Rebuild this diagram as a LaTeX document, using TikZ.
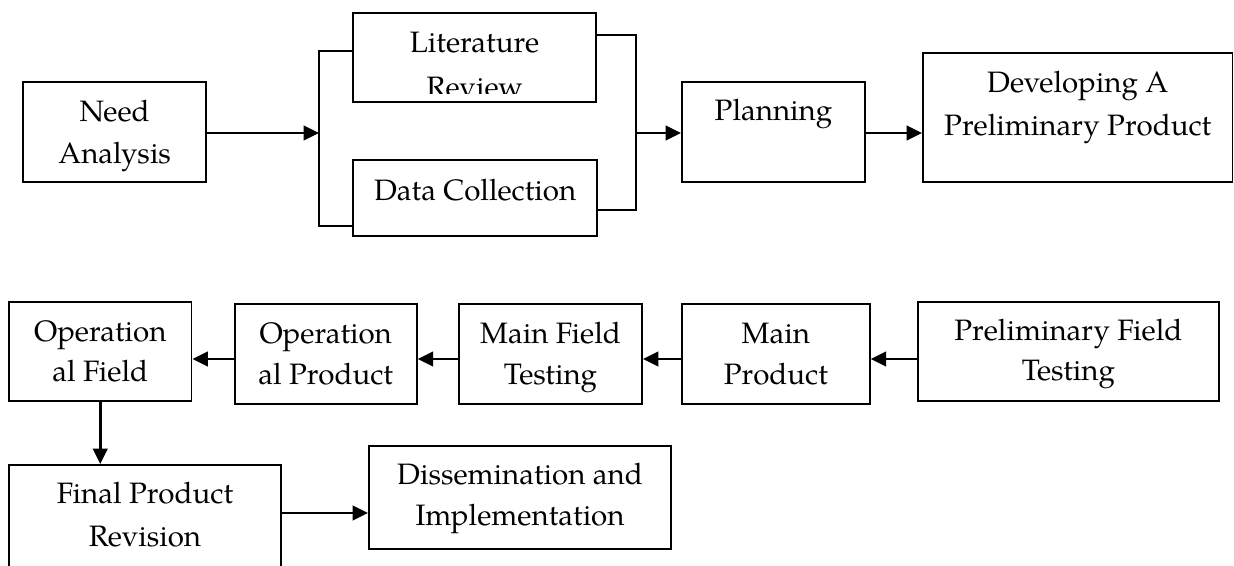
\documentclass[tikz,border=0pt]{standalone}
\usepackage{fontspec}
\setmainfont{TeX Gyre Pagella}
\usetikzlibrary{arrows.meta}
\newcommand\twoln[3]{\vtop{\baselineskip=#1pt\lineskiplimit=-100pt\halign{\hfil##\hfil\cr#2\cr#3\cr}}}
\begin{document}
\begin{tikzpicture}[x=1pt,y=-1pt,
  box/.style={draw, line width=1.9pt, inner sep=0pt, rectangle},
  txt/.style={inner sep=0pt, anchor=base, font=\fontsize{29.5}{41}\selectfont},
  arr/.style={line width=2.7pt, -{Triangle[length=15.5pt,width=14.5pt]}},
  conn/.style={line width=1.9pt}]
\useasboundingbox (0,0) rectangle (1234,565);
\clip (0,0) rectangle (1234,565);
% boxes
\node[box, minimum width=182.7pt, minimum height=100pt] (need) at (114.65,132) {};
\node[box, minimum width=242.7pt, minimum height=88.4pt] (lit) at (474.65,57.5) {};
\node[box, minimum width=243.7pt, minimum height=75.7pt] (data) at (475.15,197.85) {};
\node[box, minimum width=183pt, minimum height=100pt] (plan) at (773.5,132) {};
\node[box, minimum width=309.5pt, minimum height=129pt] (dev) at (1077.75,117.5) {};
\node[box, minimum width=182.5pt, minimum height=99.3pt] (opf) at (100.25,351.35) {};
\node[box, minimum width=182pt, minimum height=100pt] (opp) at (325.7,354) {};
\node[box, minimum width=183pt, minimum height=100pt] (mft) at (550.5,354) {};
\node[box, minimum width=187.7pt, minimum height=100pt] (mp) at (775.85,354) {};
\node[box, minimum width=300.7pt, minimum height=99.3pt] (pft) at (1068.35,351.35) {};
\node[box, minimum width=272pt, minimum height=135pt] (fpr) at (145,532.5) {};
\node[box, minimum width=302pt, minimum height=103.3pt] (dis) at (520,497.35) {};
% texts
\node[txt] (needt) at (114.65,121.7) {\twoln{41.6}{Need}{Analysis}};
\begin{scope}
\clip (353.3,13.3) rectangle (596,93);
\node[txt] (litt) at (474.65,52.7) {\twoln{44.9}{Literature}{Review}};
\end{scope}
\node[txt] (datat) at (475.15,200) {Data Collection};
\node[txt] (plant) at (773.5,120.7) {Planning};
\node[txt] (devt) at (1077.75,92) {\twoln{43.3}{Developing A}{Preliminary Product}};
\node[txt] (opft) at (100.25,341) {\twoln{40.7}{Operation}{al Field}};
\node[txt] (oppt) at (325.7,343.3) {\twoln{40.7}{Operation}{al Product}};
\node[txt] (mftt) at (550.5,343) {\twoln{41}{Main Field}{Testing}};
\node[txt] (mpt) at (775.85,343) {\twoln{41}{Main}{Product}};
\node[txt] (pftt) at (1068.35,340) {\twoln{40.5}{Preliminary Field}{Testing}};
\node[txt] (fprt) at (145,503) {\twoln{43.7}{Final Product}{Revision}};
\node[txt] (dist) at (520,484) {\twoln{41}{Dissemination and}{Implementation}};
% connector coordinates
\coordinate (bl) at (319,133);
\coordinate (br) at (636,133);
\coordinate (blt) at (319,50.7);
\coordinate (blb) at (319,226);
\coordinate (brt) at (636,35);
\coordinate (brb) at (636,210);
\coordinate (row1) at (0,133);
\coordinate (row2) at (0,359);
\coordinate (row3) at (0,513);
% brackets
\draw[conn] (lit.west |- blt) -- (blt) -- (blb) -- (data.west |- blb);
\draw[conn] (lit.east |- brt) -- (brt) -- (brb) -- (data.east |- brb);
% arrows top row
\draw[arr] (need.east |- row1) -- (bl);
\draw[arr] (br) -- (plan.west |- row1);
\draw[arr] (plan.east |- row1) -- (dev.west |- row1);
% arrows bottom row
\draw[arr] (pft.west |- row2) -- (mp.east |- row2);
\draw[arr] (mp.west |- row2) -- (mft.east |- row2);
\draw[arr] (mft.west |- row2) -- (opp.east |- row2);
\draw[arr] (opp.west |- row2) -- (opf.east |- row2);
\draw[arr] (opf.south) -- (opf.south |- fpr.north);
\draw[arr] (fpr.east |- row3) -- (dis.west |- row3);
\end{tikzpicture}
\end{document}
